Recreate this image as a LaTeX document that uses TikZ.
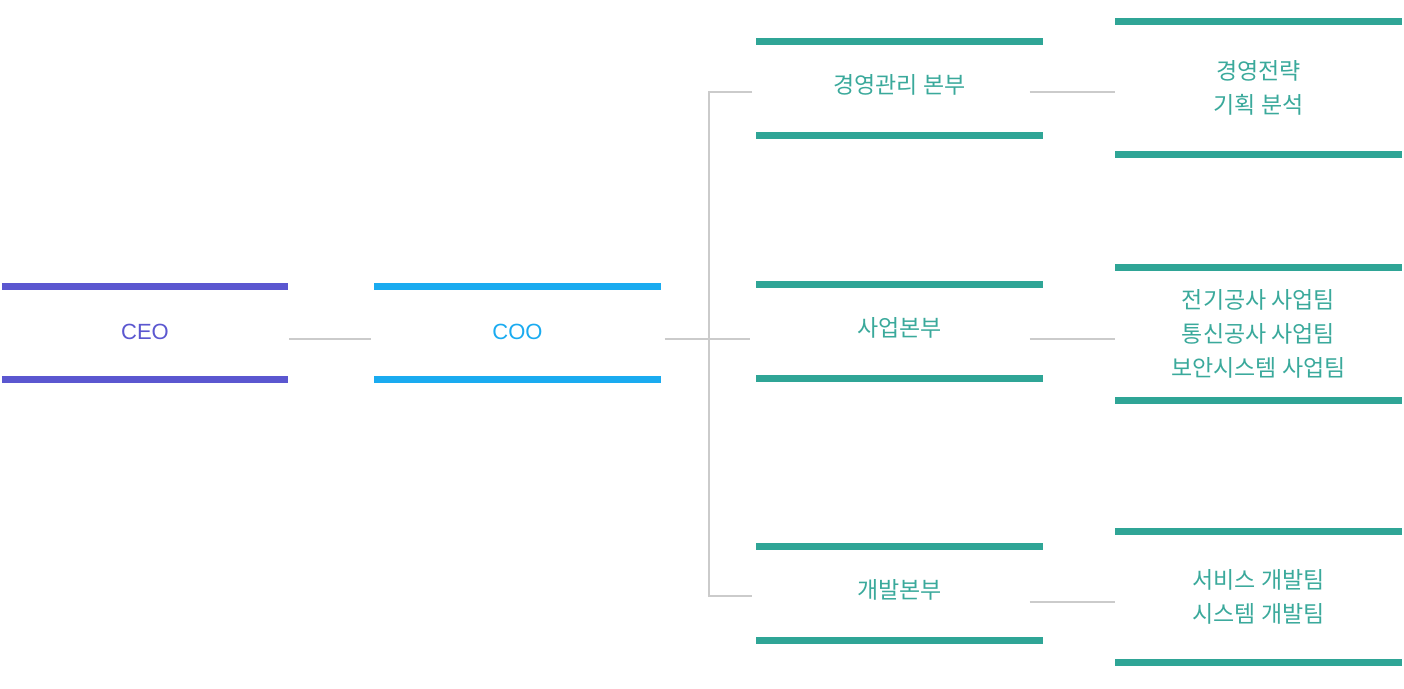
\documentclass[tikz,border=0pt]{standalone}
\usepackage{fontspec}
\setmainfont{Liberation Sans}
\newfontfamily\kr{Noto Sans CJK KR}
\usetikzlibrary{calc}
\definecolor{ceoc}{HTML}{5B57D0}
\definecolor{cooc}{HTML}{1AABF0}
\definecolor{teal}{HTML}{2FA596}
\definecolor{tealtxt}{HTML}{3AA99B}
\definecolor{connc}{HTML}{CBCBCB}
\tikzset{
  unit/.style={minimum width=286pt, inner sep=0pt, align=center},
  bar/.style={line width=7pt},
  conn/.style={draw=connc, line width=2pt},
  ktext/.style={font=\kr\fontsize{23}{34}\selectfont, text=tealtxt},
}
\newcommand{\bars}[2]{\draw[bar,#2] (#1.north west) -- (#1.north east); \draw[bar,#2] (#1.south west) -- (#1.south east);}
\begin{document}
\begin{tikzpicture}[x=1pt,y=-1pt]
\useasboundingbox (0,0) rectangle (1404,688);
% top-level
\node[unit, minimum height=93pt, text=ceoc, font=\fontsize{22}{26}\selectfont] (ceo) at (145,333) {\raisebox{3pt}{CEO}};
\node[unit, minimum height=93pt, text=cooc, font=\fontsize{22}{26}\selectfont] (coo) at (517.5,333) {\raisebox{3pt}{COO}};
\bars{ceo}{ceoc}
\bars{coo}{cooc}
% middle
\node[unit, minimum height=93pt, ktext] (m1) at (899.5,88.5) {\raisebox{10pt}{경영관리 본부}};
\node[unit, minimum height=93pt, ktext] (m2) at (899.5,331.5) {\raisebox{10pt}{사업본부}};
\node[unit, minimum height=93pt, ktext] (m3) at (899.5,593.5) {\raisebox{10pt}{개발본부}};
\bars{m1}{teal}
\bars{m2}{teal}
\bars{m3}{teal}
% right
\node[unit, minimum height=132pt, ktext] (r1) at (1258.5,88) {\raisebox{3pt}{\parbox{286pt}{\centering 경영전략\\기획 분석}}};
\node[unit, minimum height=132pt, ktext] (r2) at (1258.5,334) {\raisebox{3pt}{\parbox{286pt}{\centering 전기공사 사업팀\\통신공사 사업팀\\보안시스템 사업팀}}};
\node[unit, minimum height=130pt, ktext] (r3) at (1258.5,597) {\raisebox{3pt}{\parbox{286pt}{\centering 서비스 개발팀\\시스템 개발팀}}};
\bars{r1}{teal}
\bars{r2}{teal}
\bars{r3}{teal}
% connectors
\coordinate (br) at (709,339);
\draw[conn] ($(ceo.east)+(1,6)$) -- ($(coo.west)+(-3,6)$);
\draw[conn] ($(coo.east)+(4,6)$) -- ($(m2.west)+(-6,7.5)$);
\draw[conn] ($(m1.west)+(-4,3.5)$) -| (br) |- ($(m3.west)+(-4,2.5)$);
\draw[conn] ($(m1.east)+(-13,3.5)$) -- ($(r1.west)+(0,4)$);
\draw[conn] ($(m2.east)+(-13,7.5)$) -- ($(r2.west)+(0,5)$);
\draw[conn] ($(m3.east)+(-13,8.5)$) -- ($(r3.west)+(0,5)$);
\end{tikzpicture}
\end{document}
